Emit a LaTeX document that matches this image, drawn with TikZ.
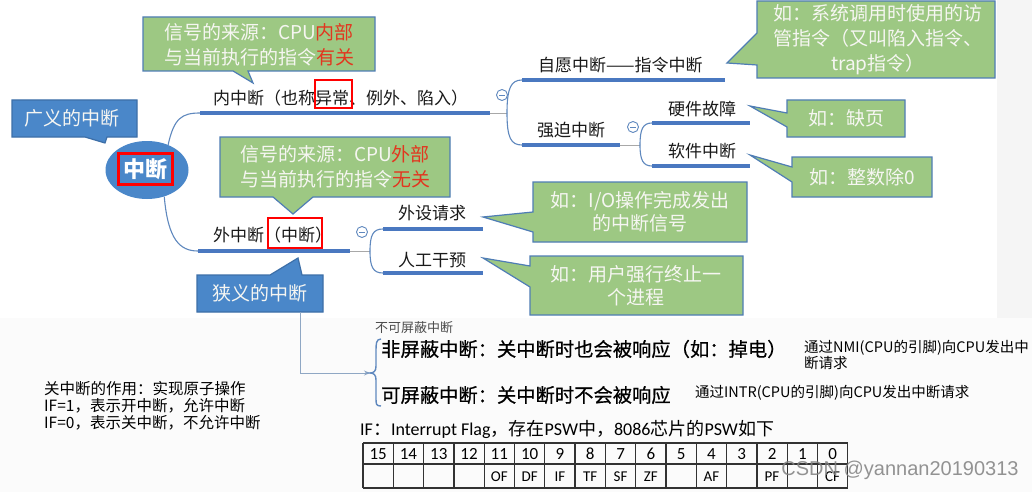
\documentclass[tikz,border=0pt]{standalone}
\usepackage{fontspec}
\setmainfont{Noto Sans CJK SC}
\newfontfamily\medfont{Noto Sans CJK SC}[FakeBold=0.6]
\newfontfamily\carlito{Carlito}
\newfontfamily\wmfont{Liberation Sans}
\usetikzlibrary{arrows.meta,shapes.geometric}
\definecolor{cgreen}{HTML}{9DC883}
\definecolor{cgborder}{HTML}{4F7DB5}
\definecolor{cblue}{HTML}{4A87C9}
\definecolor{cbborder}{HTML}{3D6FA8}
\definecolor{lineblue}{HTML}{4A78C0}
\definecolor{thinblue}{HTML}{5F88BE}
\definecolor{cred}{HTML}{E2361F}
\definecolor{ctext}{HTML}{F6F6F2}
\definecolor{arrowgrey}{HTML}{8FA7C4}
\definecolor{extgrey}{HTML}{A8A8A8}
\begin{document}
\begin{tikzpicture}[x=1pt,y=-1pt,
  fnt/.style 2 args={font=\fontsize{#1}{#2}\selectfont},
  gcall/.style={fill=cgreen,draw=cgborder,line width=1.2pt,line join=miter},
  bcall/.style={fill=cblue,draw=cbborder,line width=1.2pt,line join=miter},
  ctxt/.style={text=ctext,align=center,inner sep=0pt},
  branch/.style={anchor=west,inner sep=0pt,text=black!90,fnt={17}{17}},
  uline/.style={draw=lineblue,line width=3.2pt},
  tline/.style={draw=thinblue,line width=1.1pt},
  gline/.style={draw=extgrey,line width=0.8pt},
  circm/.style={circle,draw=thinblue,line width=0.9pt,minimum size=11pt,inner sep=0pt},
  hl/.style={draw=red,line width=2.4pt,inner sep=0pt},
  cellnum/.style={inner sep=0pt,font=\carlito\fontsize{17}{17}\selectfont},
  cellflag/.style={inner sep=0pt,font=\carlito\fontsize{15}{15}\selectfont},
  small/.style={inner sep=0pt,fnt={14.5}{15.5}},
  bigline/.style={anchor=west,inner sep=0pt,font=\medfont\fontsize{19.3}{19.3}\selectfont}
]
\useasboundingbox (0,0) rectangle (1032,492);
\fill[white] (0,0) rectangle (1032,492);
\fill[gray!8] (997,0) rectangle (1032,318);
\fill[gray!3] (0,318) rectangle (1032,492);

% ---------- callouts ----------
\draw[gcall] (143,17) -- (375,17) -- (375,71) -- (248,71) -- (253,83) -- (233,71) -- (143,71) -- cycle;
\node[ctxt,fnt={19}{25}] (src1) at (259,45) {信号的来源：CPU\textcolor{cred}{内部}\\与当前执行的指令\textcolor{cred}{有关}};

\draw[gcall] (220,137) -- (450,137) -- (450,197) -- (313,197) -- (293,214) -- (273,197) -- (220,197) -- cycle;
\node[ctxt,fnt={19}{25}] (src2) at (335,167) {信号的来源：CPU\textcolor{cred}{外部}\\与当前执行的指令\textcolor{cred}{无关}};

\draw[bcall] (12,100) -- (137,100) -- (137,137) -- (107,137) -- (105,143) -- (85,137) -- (12,137) -- cycle;
\node[ctxt,fnt={19}{19}] (broad) at (72,118.5) {广义的中断};

\draw[bcall] (197,275) -- (270,275) -- (298,258) -- (302,275) -- (323,275) -- (323,312) -- (197,312) -- cycle;
\node[ctxt,fnt={19}{19},minimum width=126pt,minimum height=37pt] (narrow) at (260,293.5) {狭义的中断};

\draw[gcall] (757,1) -- (995,1) -- (995,78) -- (757,78) -- (757,65) -- (727,63) -- (757,33) -- cycle;
\node[ctxt,fnt={19}{25}] (ex1) at (878,40) {如：系统调用时使用的访\\管指令（又叫陷入指令、\\trap指令）};

\draw[gcall] (787,100) -- (905,100) -- (905,137) -- (787,137) -- (787,127) -- (750,106) -- (787,113) -- cycle;
\node[ctxt,fnt={19}{19}] (ex2) at (846,118.5) {如：缺页};

\draw[gcall] (792,157) -- (932,157) -- (932,197) -- (792,197) -- (792,182) -- (750,155) -- (792,167) -- cycle;
\node[ctxt,fnt={19}{19}] (ex3) at (862,177) {如：整数除0};

\draw[gcall] (533,182) -- (747,182) -- (747,242) -- (533,242) -- (533,232) -- (483,217) -- (533,212) -- cycle;
\node[ctxt,fnt={19}{23}] (ex4) at (640,212) {如：I/O操作完成发出\\的中断信号};

\draw[gcall] (530,256) -- (743,256) -- (743,315) -- (530,315) -- (530,287) -- (483,258) -- (530,266) -- cycle;
\node[ctxt,fnt={19}{23}] (ex5) at (636,286) {如：用户强行终止一\\个进程};

% ---------- root ----------
\node[ellipse,fill=cblue,minimum width=83pt,minimum height=58pt,inner sep=0pt] (root) at (147,170) {};
\node[hl,minimum width=54pt,minimum height=31pt,text=white,fnt={22}{22}] (rootlbl) at (145.5,169) {\bfseries 中断};

% ---------- coordinates of branch lines ----------
\coordinate (n1a) at (200,113); \coordinate (n1b) at (490,113); \coordinate (n1c) at (507,113);
\coordinate (s1a) at (522,80);  \coordinate (s1b) at (725,80);
\coordinate (s2a) at (522,145); \coordinate (s2b) at (620,145); \coordinate (s2c) at (640,145);
\coordinate (h1a) at (652,123); \coordinate (h1b) at (750,123);
\coordinate (h2a) at (652,166); \coordinate (h2b) at (750,166);
\coordinate (n2a) at (198,251); \coordinate (n2b) at (350,251); \coordinate (n2c) at (370,251);
\coordinate (e1a) at (383,229); \coordinate (e1b) at (483,229);
\coordinate (e2a) at (383,273); \coordinate (e2b) at (483,273);

% root connectors
\draw[tline] (root.50) .. controls (174,118) and (182,113) .. (n1a);
\draw[tline] (root.-57) .. controls (168,240) and (180,251) .. (n2a);

% underlines
\draw[uline] (n1a) -- (n1b);
\draw[gline] (n1b) -- (n1c);
\draw[uline] (s1a) -- (s1b);
\draw[uline] (s2a) -- (s2b);
\draw[gline] (s2b) -- (s2c);
\draw[uline] (h1a) -- (h1b);
\draw[uline] (h2a) -- (h2b);
\draw[uline] (n2a) -- (n2b);
\draw[gline] (n2b) -- (n2c);
\draw[uline] (e1a) -- (e1b);
\draw[uline] (e2a) -- (e2b);

% brackets
\draw[tline] (n1c) .. controls (507,88) and (511,80) .. (s1a);
\draw[tline] (n1c) .. controls (507,138) and (511,145) .. (s2a);
\draw[tline] (s2c) .. controls (640,129) and (643,123) .. (h1a);
\draw[tline] (s2c) .. controls (640,160) and (643,166) .. (h2a);
\draw[tline] (n2c) .. controls (370,235) and (373,229) .. (e1a);
\draw[tline] (n2c) .. controls (370,267) and (373,273) .. (e2a);

% collapse circles
\node[circm] (m1) at (502,95) {};
\draw[thinblue,line width=0.9pt] ([xshift=-3pt]m1.center) -- ([xshift=3pt]m1.center);
\node[circm] (m2) at (633,127) {};
\draw[thinblue,line width=0.9pt] ([xshift=-3pt]m2.center) -- ([xshift=3pt]m2.center);
\node[circm] (m3) at (362,232) {};
\draw[thinblue,line width=0.9pt] ([xshift=-3pt]m3.center) -- ([xshift=3pt]m3.center);

% branch labels
\node[branch] (inner) at (213,98) {内中断（也称异常、例外、陷入）};
\node[hl,minimum width=37pt,minimum height=28pt] (hlA) at (333.5,94) {};
\node[branch] (vol) at (538,65) {自愿中断——指令中断};
\node[branch] (forced) at (537,130) {强迫中断};
\node[branch] (hw) at (668,109) {硬件故障};
\node[branch] (sw) at (668,151) {软件中断};
\node[branch] (outer) at (213,235) {外中断（中断）};
\node[hl,minimum width=54pt,minimum height=30pt] (hlB) at (295,233) {};
\node[branch] (dev) at (398,213) {外设请求};
\node[branch] (man) at (398,260) {人工干预};

% ---------- lower part ----------
\coordinate (brtip) at (370,373);
\draw[arrowgrey,line width=1pt,-{Stealth[length=6pt,width=5pt]}] ([xshift=40pt]narrow.south) |- (brtip);
\draw[thinblue,line width=1.4pt] (381,339) .. controls (376,339) and (376,344) .. (376,351) -- (376,366) .. controls (376,371) and (374,373) .. (brtip) .. controls (374,373) and (376,375) .. (376,380) -- (376,398) .. controls (376,404) and (376,406) .. (381,406);

\node[anchor=west,inner sep=0pt,text=black!70,fnt={13}{13}] (nmilbl) at (375,328) {不可屏蔽中断};
\node[bigline] (nmi) at (381,349) {非屏蔽中断：关中断时也会被响应（如：掉电）};
\node[anchor=west,align=left,small] (nmiway) at (804,355) {通过NMI(CPU的引脚)向CPU发出中\\断请求};
\node[bigline] (intr) at (381,395) {可屏蔽中断：关中断时不会被响应};
\node[anchor=west,small] (intrway) at (695,393) {通过INTR(CPU的引脚)向CPU发出中断请求};

\node[anchor=north west,align=left,inner sep=0pt,fnt={15.5}{17}] (note) at (44,381) {关中断的作用：实现原子操作\\IF=1，表示开中断，允许中断\\IF=0，表示关中断，不允许中断};

\node[anchor=west,inner sep=0pt,fnt={18}{18}] (iftxt) at (360,429) {{\carlito IF}：{\carlito Interrupt Flag}，存在{\carlito PSW}中，{\carlito 8086}芯片的{\carlito PSW}如下};

% PSW table
\foreach \i in {0,...,16} {
  \draw[black!80,line width=1.3pt] (363+30.3*\i,443) -- (363+30.3*\i,488);
}
\draw[black!80,line width=1.3pt] (363,443) -- (847.8,443);
\draw[black!80,line width=1.3pt] (363,464) -- (847.8,464);
\draw[black!80,line width=1.3pt] (363,488) -- (847.8,488);
\foreach \i in {0,...,15} {
  \pgfmathtruncatemacro{\b}{15-\i}
  \node[cellnum] (bit\b) at (378.15+30.3*\i,454) {\b};
}
\foreach \b/\f in {11/OF,10/DF,9/IF,8/TF,7/SF,6/ZF,4/AF,2/PF,0/CF} {
  \pgfmathsetmacro{\cx}{378.15+30.3*(15-\b)}
  \node[cellflag] (flag\b) at (\cx,476.5) {\f};
}

\node[inner sep=0pt,text=gray,opacity=0.85,font=\wmfont\fontsize{20}{20}\selectfont] (wm) at (900,470) {CSDN @yannan20190313};
\end{tikzpicture}
\end{document}
